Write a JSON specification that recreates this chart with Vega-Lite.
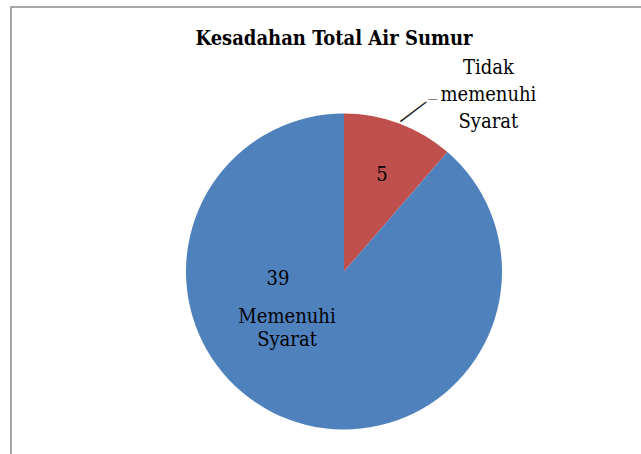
{
  "$schema": "https://vega.github.io/schema/vega-lite/v6.json",
  "width": 666,
  "height": 529,
  "autosize": {"type": "none"},
  "padding": {"left": 11, "top": 7, "right": 0, "bottom": 0},
  "background": "white",
  "view": {"stroke": "#8c8c8c", "strokeWidth": 1.5},
  "title": {
    "text": "Kesadahan Total Air Sumur",
    "font": "DejaVu Serif Condensed",
    "fontSize": 20,
    "fontWeight": "bold",
    "color": "black",
    "anchor": "middle",
    "frame": "group",
    "offset": -58,
    "baseline": "alphabetic",
    "dx": -10
  },
  "data": {
    "values": [
      {"category": "Tidak memenuhi Syarat", "value": 5},
      {"category": "Memenuhi Syarat", "value": 39}
    ]
  },
  "encoding": {
    "theta": {"field": "value", "type": "quantitative", "stack": true},
    "order": {"field": "value", "type": "quantitative", "sort": "ascending"}
  },
  "layer": [
    {
      "mark": {"type": "arc", "radius": 158},
      "encoding": {
        "color": {
          "field": "category",
          "type": "nominal",
          "scale": {"domain": ["Tidak memenuhi Syarat", "Memenuhi Syarat"], "range": ["#C0504D", "#4F81BD"]},
          "legend": null
        }
      }
    },
    {
      "mark": {"type": "text", "radius": 103, "font": "DejaVu Serif Condensed", "fontSize": 20, "color": "black", "baseline": "middle", "align": "center", "dx": 2},
      "encoding": {
        "text": {"condition": {"test": "datum.value === 5", "field": "value", "type": "quantitative"}, "value": ""}
      }
    },
    {
      "mark": {"type": "text", "radius": 10, "font": "DejaVu Serif Condensed", "fontSize": 20, "color": "black", "baseline": "middle", "align": "center", "dx": -62.5, "dy": -2},
      "encoding": {
        "text": {"condition": {"test": "datum.value === 39", "field": "value", "type": "quantitative"}, "value": ""}
      }
    },
    {
      "mark": {"type": "text", "radius": 10, "font": "DejaVu Serif Condensed", "fontSize": 20, "color": "black", "baseline": "middle", "align": "center", "lineBreak": " ", "lineHeight": 23, "dx": -53.5, "dy": 36},
      "encoding": {
        "text": {"condition": {"test": "datum.value === 39", "field": "category", "type": "nominal"}, "value": ""}
      }
    },
    {
      "mark": {"type": "text", "radius": 190, "font": "DejaVu Serif Condensed", "fontSize": 20, "color": "black", "baseline": "middle", "align": "center", "lineBreak": " ", "lineHeight": 27, "dx": 78, "dy": -25.5},
      "encoding": {
        "text": {"condition": {"test": "datum.value === 5", "field": "category", "type": "nominal"}, "value": ""}
      }
    },
    {
      "mark": {"type": "text", "radius": 174, "font": "DejaVu Sans", "fontWeight": 200, "fontSize": 36, "color": "#222", "baseline": "middle", "align": "center", "angle": -37, "dx": 4.6, "dy": 6.6},
      "encoding": {
        "text": {"condition": {"test": "datum.value === 5", "value": "—"}, "value": ""}
      }
    },
    {
      "mark": {"type": "text", "radius": 174, "font": "DejaVu Sans", "fontWeight": 200, "fontSize": 10, "color": "#222", "baseline": "middle", "align": "center", "dx": 28, "dy": -9.5},
      "encoding": {
        "text": {"condition": {"test": "datum.value === 5", "value": "—"}, "value": ""}
      }
    }
  ]
}
